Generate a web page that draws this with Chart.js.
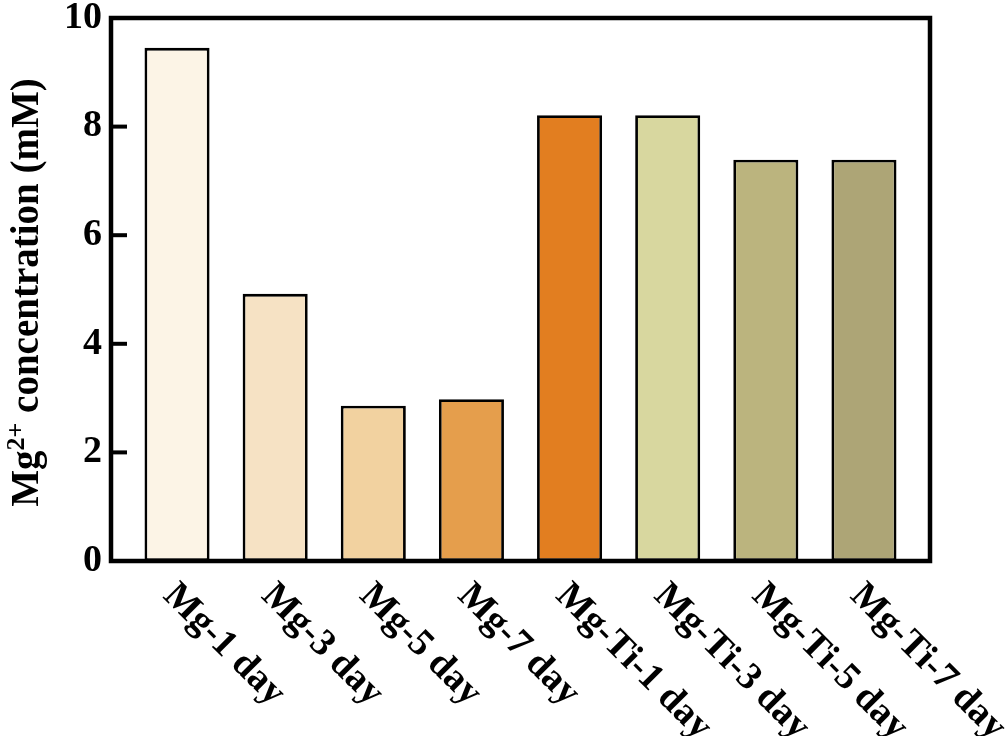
<!DOCTYPE html>
<html>
<head>
<meta charset="utf-8">
<script src="https://cdn.jsdelivr.net/npm/chart.js@4.4.1/dist/chart.umd.min.js"></script>
<style>
  html, body { margin: 0; padding: 0; background: #fff; }
  #wrap { width: 1008px; height: 736px; }
</style>
</head>
<body>
<div id="wrap"><canvas id="mgChart" width="1008" height="736"></canvas></div>
<script>
const categories = ['Mg-1 day', 'Mg-3 day', 'Mg-5 day', 'Mg-7 day', 'Mg-Ti-1 day', 'Mg-Ti-3 day', 'Mg-Ti-5 day', 'Mg-Ti-7 day'];
const concentration = [9.45, 4.92, 2.86, 2.98, 8.21, 8.21, 7.39, 7.39];
const yTicks = [0, 2, 4, 6, 8, 10];
const barColors = ['#fcf4e6', '#f6e2c4', '#f2d2a0', '#e59e4c', '#e27e20', '#d8d79f', '#bbb47e', '#ada576'];

const FONT = "'Liberation Serif', 'Times New Roman', serif";

// frame, inward ticks, rotated category labels, y title with superscript
const framePlugin = {
    id: 'frame',
    afterDatasetsDraw(chart) {
        const ctx = chart.ctx;
        const a = chart.chartArea;
        const y = chart.scales.y;
        const x = chart.scales.x;
        ctx.save();
        ctx.strokeStyle = '#000';
        ctx.lineWidth = 4.5;
        ctx.strokeRect(a.left, a.top, a.right - a.left, a.bottom - a.top);
        ctx.lineWidth = 4;
        yTicks.forEach(v => {
            const py = y.getPixelForValue(v);
            ctx.beginPath();
            ctx.moveTo(a.left, py);
            ctx.lineTo(a.left + 16, py);
            ctx.stroke();
        });

        ctx.fillStyle = '#000';
        ctx.font = 'bold 38px ' + FONT;
        ctx.textAlign = 'left';
        ctx.textBaseline = 'alphabetic';
        categories.forEach((c, i) => {
            const px = x.getPixelForValue(i);
            ctx.save();
            ctx.translate(px - 15, a.bottom + 36);
            ctx.rotate(Math.PI / 4);
            ctx.fillText(c, 0, 0);
            ctx.restore();
        });

        // y title
        const main = 'bold 39px ' + FONT;
        const sup = 'bold 26px ' + FONT;
        ctx.font = main;
        const w1 = ctx.measureText('Mg').width;
        const w3 = ctx.measureText(' concentration (mM)').width;
        ctx.font = sup;
        const w2 = ctx.measureText('2+').width;
        const total = w1 + w2 + w3;
        ctx.save();
        ctx.translate(38, (a.top + a.bottom) / 2 + 3);
        ctx.rotate(-Math.PI / 2);
        let sx = -total / 2;
        ctx.font = main;
        ctx.fillText('Mg', sx, 0);
        sx += w1;
        ctx.font = sup;
        ctx.fillText('2+', sx, -14);
        sx += w2;
        ctx.font = main;
        ctx.fillText(' concentration (mM)', sx, 0);
        ctx.restore();
        ctx.restore();
    }
};

new Chart(document.getElementById('mgChart'), {
    type: 'bar',
    data: {
        datasets: [{
            data: concentration.map((v, i) => ({ x: i, y: v })),
            backgroundColor: barColors,
            borderColor: '#000',
            borderWidth: 2.8,
            borderSkipped: false,
            barPercentage: 0.663,
            categoryPercentage: 1
        }]
    },
    options: {
        responsive: false,
        animation: false,
        layout: { padding: { left: 0, right: 78, top: 18, bottom: 175 } },
        plugins: { legend: { display: false }, tooltip: { enabled: false } },
        scales: {
            x: {
                type: 'linear',
                offset: false,
                min: -0.673,
                max: 7.673,
                display: false,
                afterBuildTicks(scale) { scale.ticks = categories.map((c, i) => ({ value: i })); }
            },
            y: {
                min: 0,
                max: 10,
                afterFit(scale) {
                    scale.width = 111;
                    scale.paddingTop = 0;
                    scale.paddingBottom = 0;
                },
                afterBuildTicks(scale) { scale.ticks = yTicks.map(v => ({ value: v })); },
                grid: { display: false, drawTicks: false },
                border: { display: false },
                ticks: {
                    padding: 9,
                    color: '#000',
                    font: { family: FONT, size: 38, weight: 'bold', lineHeight: 1 }
                }
            }
        }
    },
    plugins: [framePlugin]
});
</script>
</body>
</html>
